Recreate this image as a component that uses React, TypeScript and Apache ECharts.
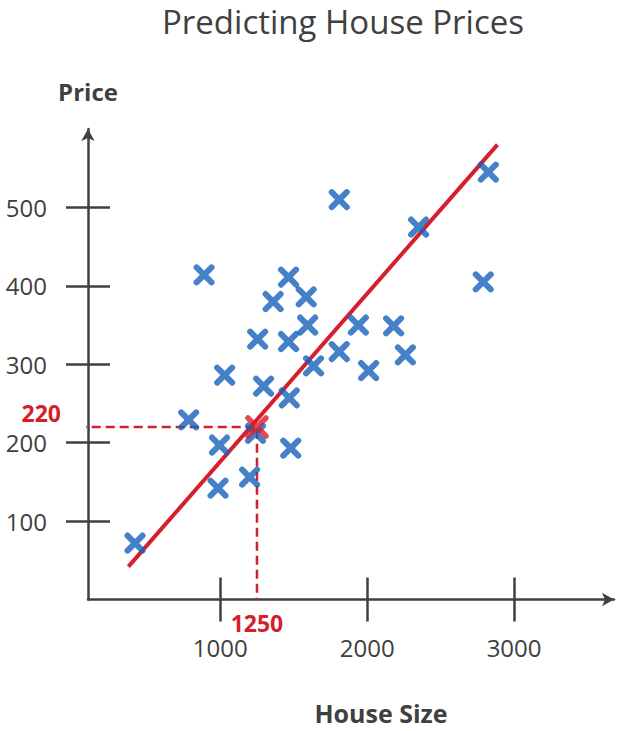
import { useEffect, useRef } from 'react';
import * as echarts from 'echarts';
import type { ECharts, EChartsOption } from 'echarts';

// 训练数据：房屋面积 / 价格
const houseSize = [420, 785, 890, 995, 985, 1030, 1200, 1240, 1255, 1295, 1360, 1465, 1465, 1470, 1480, 1585, 1595, 1635, 1810, 1810, 1940, 2010, 2180, 2260, 2350, 2790, 2825];
const price = [72, 229, 414, 197, 142, 286, 156, 212, 332, 272, 380, 411, 329, 257, 193, 386, 350, 298, 316, 510, 350, 292, 349, 312, 475, 405, 545];

// 回归直线两端
const fitX = [375, 2887];
const fitY = [42, 580];

// 预测点
const predictSize = 1250;
const predictPrice = 220;
const guideStartX = 30;

// 刻度
const xTicks = [1000, 2000, 3000];
const yTicks = [100, 200, 300, 400, 500];

const GRAY = '#404040';
const BLUE = '#1562bb';
const RED = '#d61f2c';
const CROSS = 'path://M0,0L10,10M10,0L0,10';

const axisLineStyle = { color: GRAY, width: 2.5 };

const App = () => {
    const chartRef = useRef<HTMLDivElement>(null);

    useEffect(() => {
        if (!chartRef.current) return;
        const chart: ECharts = echarts.init(chartRef.current, undefined, { renderer: 'svg' });

        const points = houseSize.map((s, i) => [s, price[i]]);
        const fitLine = fitX.map((x, i) => [x, fitY[i]]);
        const guide = [
            [guideStartX, predictPrice],
            [predictSize, predictPrice],
            [predictSize, 0]
        ];

        const option: EChartsOption = {
            animation: false,
            textStyle: { fontFamily: 'Open Sans' },
            title: {
                text: 'Predicting House Prices',
                left: 343,
                top: 5,
                padding: 0,
                textAlign: 'center',
                textStyle: { fontSize: 33, fontWeight: 'normal', color: GRAY, fontFamily: 'Open Sans' }
            },
            graphic: [
                {
                    type: 'text',
                    x: 381,
                    y: 713,
                    style: {
                        text: 'House Size',
                        fill: GRAY,
                        font: 'bold 25px "Open Sans"',
                        textAlign: 'center',
                        textVerticalAlign: 'middle'
                    }
                }
            ],
            grid: { left: 88, right: 8, top: 129, bottom: 131.5, containLabel: false },
            xAxis: [
                {
                    type: 'value',
                    min: 100,
                    max: 3680,
                    position: 'bottom',
                    axisLine: { show: true, onZero: false, symbol: ['none', 'arrow'], symbolSize: [10, 12], lineStyle: axisLineStyle },
                    axisTick: { show: true, inside: true, length: 22, customValues: xTicks, lineStyle: axisLineStyle },
                    axisLabel: { customValues: xTicks, margin: 36, fontSize: 24, color: GRAY, formatter: (v: number) => String(v) },
                    splitLine: { show: false }
                },
                {
                    type: 'value',
                    min: 100,
                    max: 3680,
                    position: 'bottom',
                    axisLine: { show: false, onZero: false },
                    axisTick: { show: true, inside: false, length: 22, customValues: xTicks, lineStyle: axisLineStyle },
                    axisLabel: { show: false },
                    splitLine: { show: false }
                },
                {
                    type: 'value',
                    min: 100,
                    max: 3680,
                    position: 'bottom',
                    axisLine: { show: false, onZero: false },
                    axisTick: { show: false },
                    axisLabel: { customValues: [predictSize], margin: 12, fontSize: 23, fontWeight: 'bold', color: RED, formatter: (v: number) => String(v) },
                    splitLine: { show: false }
                }
            ],
            yAxis: [
                {
                    type: 'value',
                    min: 0,
                    max: 600,
                    position: 'left',
                    name: 'Price',
                    nameLocation: 'end',
                    nameGap: 26,
                    nameTextStyle: { fontSize: 24, fontWeight: 'bold', color: GRAY },
                    axisLine: { show: true, onZero: false, symbol: ['none', 'arrow'], symbolSize: [10, 12], lineStyle: axisLineStyle },
                    axisTick: { show: true, inside: true, length: 22, customValues: yTicks, lineStyle: axisLineStyle },
                    axisLabel: { customValues: yTicks, margin: 41, fontSize: 24, color: GRAY, lineHeight: 24 },
                    splitLine: { show: false }
                },
                {
                    type: 'value',
                    min: 0,
                    max: 600,
                    position: 'left',
                    axisLine: { show: false, onZero: false },
                    axisTick: { show: true, inside: false, length: 22, customValues: yTicks, lineStyle: axisLineStyle },
                    axisLabel: { show: false },
                    splitLine: { show: false }
                },
                {
                    type: 'value',
                    min: 0,
                    max: 600,
                    position: 'left',
                    axisLine: { show: false, onZero: false },
                    axisTick: { show: false },
                    // 标签上移，避免与 200 重叠
                    axisLabel: {
                        customValues: [predictPrice],
                        margin: 27,
                        fontSize: 23,
                        fontWeight: 'bold',
                        color: RED,
                        verticalAlign: 'bottom',
                        lineHeight: 22,
                        padding: [0, 0, 3, 0]
                    },
                    splitLine: { show: false }
                }
            ],
            series: [
                {
                    type: 'line',
                    data: guide,
                    clip: false,
                    symbol: 'none',
                    silent: true,
                    lineStyle: { color: RED, width: 2.5, type: [9, 5] },
                    z: 1
                },
                {
                    type: 'line',
                    data: fitLine,
                    symbol: 'none',
                    silent: true,
                    lineStyle: { color: RED, width: 4 },
                    z: 2
                },
                {
                    type: 'scatter',
                    data: points,
                    symbol: CROSS,
                    symbolSize: 15,
                    silent: true,
                    itemStyle: { color: BLUE, borderColor: BLUE, borderWidth: 6, borderCap: 'round' },
                    z: 3
                },
                {
                    type: 'scatter',
                    data: [[predictSize, predictPrice]],
                    symbol: CROSS,
                    symbolSize: 18,
                    silent: true,
                    itemStyle: { color: RED, borderColor: RED, borderWidth: 5.5, borderCap: 'round' },
                    z: 4
                }
            ]
        };

        chart.setOption(option);

        return () => {
            chart.dispose();
        };
    }, []);

    return (
        <div
            ref={chartRef}
            style={{ position: 'absolute', left: 0, top: 0, width: '622px', height: '731px' }}
        />
    );
};

export default App;
